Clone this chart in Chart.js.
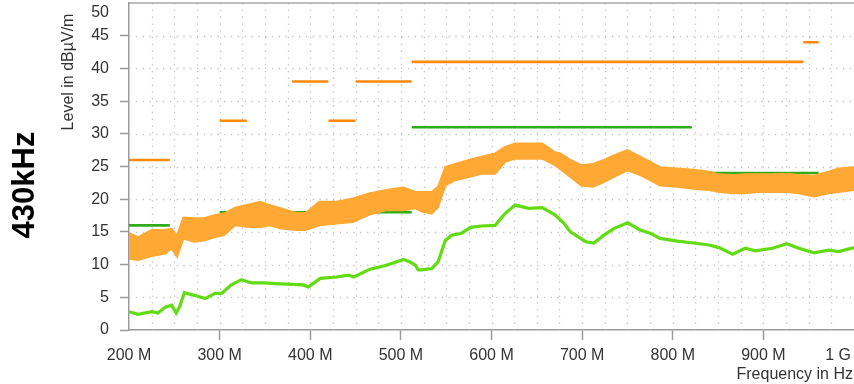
<!DOCTYPE html>
<html><head><meta charset="utf-8">
<script src="https://cdn.jsdelivr.net/npm/chart.js@4/dist/chart.umd.min.js"></script>
<style>html,body{margin:0;padding:0;background:#fff;}#wrap{width:854px;height:384px;position:relative;}</style>
</head><body><div id="wrap"><canvas id="c" width="854" height="384"></canvas></div>
<script>
// Average trace (green)
const freqAvg = [200,210,225,232,240,247,252,256,261,272,284,295,302,313,324,335,350,361,374,392,398,411,429,442,448,466,484,503,510,516,519,523,534,541,549,556,567,577,589,604,615,626,641,656,670,680,687,694,704,713,724,735,750,764,775,786,805,823,840,851,866,880,891,910,926,939,956,972,983,1000];
const levelAvg = [2.8,2.4,2.8,2.6,3.5,3.8,2.6,3.6,5.7,5.3,4.8,5.6,5.6,6.9,7.7,7.2,7.2,7.1,7.0,6.9,6.6,7.9,8.1,8.4,8.1,9.3,9.9,10.8,10.4,9.9,9.2,9.2,9.4,10.4,13.7,14.5,14.8,15.7,15.9,16.0,17.8,19.1,18.6,18.7,17.6,16.3,15.0,14.4,13.5,13.3,14.5,15.5,16.4,15.3,14.8,14.0,13.6,13.3,13.0,12.6,11.6,12.5,12.1,12.5,13.2,12.5,11.8,12.2,12.0,12.6];
// Peak trace (orange) – upper and lower edge of the noise band
const freqPeak = [200,210,225,240,247,253,260,272,283,295,305,317,330,345,355,368,385,395,410,429,447,466,484,503,516,523,534,541,549,560,575,589,604,615,626,641,656,670,676,687,699,712,724,735,750,764,775,786,805,823,840,851,866,880,895,910,926,939,956,972,983,1000];
const peakUpper = [14.8,14.2,15.3,15.3,15.5,14.4,17.2,17.1,17.1,17.6,17.8,18.7,19.1,19.6,19.1,18.6,17.9,17.9,19.6,19.6,20.1,20.9,21.4,21.8,21.1,21.1,21.1,21.9,24.9,25.4,26.0,26.5,27.0,28.0,28.5,28.5,28.5,27.2,27.0,26.0,25.2,25.4,26.0,26.7,27.5,26.5,25.7,24.9,24.7,24.5,24.2,23.8,23.7,23.8,23.8,23.8,23.9,23.7,23.6,24.2,24.7,24.9];
const peakLower = [10.9,10.7,11.3,11.7,12.5,11.2,14.0,13.5,13.7,14.2,14.5,16.0,15.8,15.7,16.0,15.5,15.3,15.3,16.0,16.3,16.5,17.7,18.3,18.3,18.6,18.1,17.8,18.8,22.1,22.9,23.4,23.9,23.9,25.7,26.2,26.2,26.2,25.2,24.6,23.4,22.1,21.9,22.6,23.4,24.4,23.7,22.9,22.1,21.9,21.6,21.4,21.1,20.9,20.9,21.1,21.1,21.1,20.9,20.4,20.9,21.1,21.4];
// Limit lines: [start MHz, end MHz, level]
const qpLimit = [[200,245,26],[300,330,32],[380,420,38],[420,450,32],[450,512,38],[512,944,41],[944,961,44]];
const avgLimit = [[200,245,16],[300,330,18],[380,512,18],[512,821,31],[821,961,24]];
// Tick labels
const xTickValues = [200,300,400,500,600,700,800,900,1000];
const xTickLabels = ['200 M','300 M','400 M','500 M','600 M','700 M','800 M','900 M','1 G'];
const yTickValues = [0,5,10,15,20,25,30,35,40,45,50];

function toPts(xs, ys){ return xs.map((x,i)=>({x:x,y:ys[i]})); }
function segPts(list){
  const pts=[];
  list.forEach((s,i)=>{
    if(i>0) pts.push({x:s[0],y:null});
    pts.push({x:s[0],y:s[2]},{x:s[1],y:s[2]});
  });
  return pts;
}

const FONT = '"Liberation Sans", Arial, Helvetica, sans-serif';
const TXT = '#333333';

const decor = {
  id:'decor',
  beforeDatasetsDraw(chart){
    const {ctx, chartArea:a, scales:{x,y}} = chart;
    ctx.save();
    ctx.strokeStyle = '#c2c2c2';
    ctx.lineWidth = 1.3;
    ctx.setLineDash([1.3,5.5]);
    x.ticks.forEach(t=>{
      if(t.value<=200 || t.value>=1000) return;
      const px = Math.round(x.getPixelForValue(t.value))+0.5;
      ctx.beginPath(); ctx.moveTo(px,a.top); ctx.lineTo(px,a.bottom); ctx.stroke();
    });
    y.ticks.forEach(t=>{
      if(t.value<=0 || t.value>=50) return;
      const py = Math.round(y.getPixelForValue(t.value))+0.5;
      ctx.beginPath(); ctx.moveTo(a.left,py); ctx.lineTo(a.right,py); ctx.stroke();
    });
    ctx.setLineDash([]);
    ctx.strokeStyle = '#a8a8a8';
    ctx.lineWidth = 1.5;
    ctx.beginPath(); ctx.moveTo(a.left, a.top); ctx.lineTo(a.right, a.top); ctx.stroke();
    ctx.restore();
  },
  afterDraw(chart){
    const {ctx, chartArea:a, scales:{x,y}} = chart;
    ctx.save();
    ctx.fillStyle = TXT;
    ctx.font = '16px ' + FONT;
    // y tick labels
    ctx.textAlign = 'right'; ctx.textBaseline = 'middle';
    yTickValues.forEach(v=>{
      let py = y.getPixelForValue(v);
      if(py < a.top + 10) py = a.top + 10;
      ctx.fillText(String(v), 109, py);
    });
    // x tick labels
    ctx.textBaseline = 'middle';
    xTickValues.forEach((v,i)=>{
      const px = x.getPixelForValue(v);
      if(px > a.right - 20){ ctx.textAlign='right'; ctx.fillText(xTickLabels[i], 851, 356); }
      else { ctx.textAlign='center'; ctx.fillText(xTickLabels[i], px, 356); }
    });
    // x axis title
    ctx.textAlign = 'right'; ctx.textBaseline = 'middle';
    ctx.fillText('Frequency in Hz', 853, 375);
    // y axis title
    ctx.save();
    ctx.translate(69, 72);
    ctx.rotate(-Math.PI/2);
    ctx.textAlign = 'center'; ctx.textBaseline = 'middle';
    ctx.fillText('Level in dB\u00B5V/m', 0, 0);
    ctx.restore();
    // side label
    ctx.save();
    ctx.translate(25, 185);
    ctx.rotate(-Math.PI/2);
    ctx.fillStyle = '#000';
    ctx.font = 'bold 31px ' + FONT;
    ctx.textAlign = 'center'; ctx.textBaseline = 'middle';
    ctx.fillText('430kHz', 0, 0);
    ctx.restore();
    ctx.restore();
  }
};

new Chart(document.getElementById('c'), {
  type:'line',
  data:{
    datasets:[
      {label:'Peak upper', data:toPts(freqPeak,peakUpper), borderColor:'#ffa833', backgroundColor:'#ffa833', borderWidth:2, fill:'+1', order:1},
      {label:'Peak lower', data:toPts(freqPeak,peakLower), borderColor:'#ffa833', backgroundColor:'#ffa833', borderWidth:2, fill:false, order:1},
      {label:'Average', data:toPts(freqAvg,levelAvg), borderColor:'#62dc12', borderWidth:3.2, fill:false, order:2},
      {label:'QP limit', data:segPts(qpLimit), borderColor:'#ff8a0a', borderWidth:2.6, fill:false, spanGaps:false, order:3},
      {label:'AV limit', data:segPts(avgLimit), borderColor:'#2fab1c', borderWidth:2.6, fill:false, spanGaps:false, order:4}
    ]
  },
  options:{
    responsive:false, animation:false, devicePixelRatio:1,
    layout:{padding:{top:3,right:0,left:0,bottom:0}},
    plugins:{legend:{display:false}, tooltip:{enabled:false}},
    elements:{point:{radius:0}, line:{tension:0, borderCapStyle:'butt'}},
    scales:{
      x:{type:'linear', min:200, max:1000,
         ticks:{display:false, stepSize:25},
         grid:{display:true, drawOnChartArea:false, drawTicks:true, tickLength:10, tickWidth:1.5,
               color:'rgba(0,0,0,0)',
               tickColor:(c)=> (c.tick && c.tick.value%100===0 && c.tick.value>200 && c.tick.value<1000) ? '#9a9a9a' : 'rgba(0,0,0,0)'},
         border:{display:true, color:'#9a9a9a', width:1.5},
         afterFit:(s)=>{ s.height = 54; }},
      y:{min:0, max:50,
         ticks:{display:false, stepSize:5},
         grid:{display:true, drawOnChartArea:false, drawTicks:true, tickLength:9, tickWidth:1.5,
               color:'rgba(0,0,0,0)',
               tickColor:(c)=> (c.tick && c.tick.value<50) ? '#9a9a9a' : 'rgba(0,0,0,0)'},
         border:{display:true, color:'#9a9a9a', width:1.5},
         afterFit:(s)=>{ s.width = 129; }}
    }
  },
  plugins:[decor]
});
</script>
</body></html>
